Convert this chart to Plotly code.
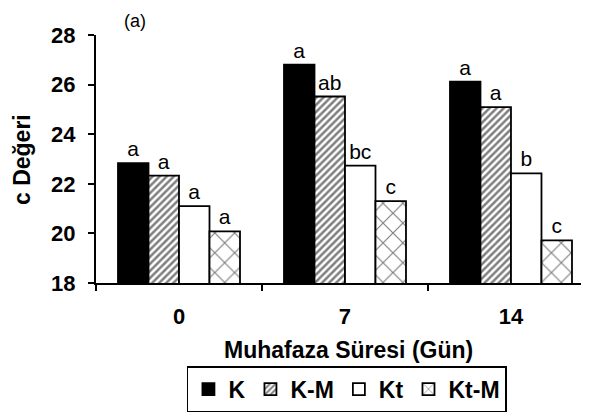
import plotly.graph_objects as go

categories = ["0", "7", "14"]
series_names = ["K", "K-M", "Kt", "Kt-M"]
K = [22.83, 26.8, 26.12]
KM = [22.33, 25.52, 25.09]
Kt = [21.1, 22.73, 22.42]
KtM = [20.08, 21.3, 19.72]
K_letters = ["a", "a", "a"]
KM_letters = ["a", "ab", "a"]
Kt_letters = ["a", "bc", "b"]
KtM_letters = ["a", "c", "c"]

FONT = "Liberation Sans, Arial, sans-serif"

styles = [
    dict(color="black", pattern=dict(shape="")),
    dict(color="white", pattern=dict(shape="/", fgcolor="black", bgcolor="white", size=5, solidity=0.5)),
    dict(color="white", pattern=dict(shape="")),
    dict(color="white", pattern=dict(shape="x", fgcolor="black", bgcolor="white", size=14, solidity=0.16)),
]

fig = go.Figure()
for name, vals, letters, st in zip(series_names, [K, KM, Kt, KtM],
                                   [K_letters, KM_letters, Kt_letters, KtM_letters], styles):
    fig.add_trace(go.Bar(
        name=name, x=categories, y=vals, text=letters,
        textposition="outside", cliponaxis=False,
        textfont=dict(family=FONT, size=21, color="black"),
        marker=dict(color=st["color"], pattern=st["pattern"],
                    line=dict(color="black", width=1.8)),
    ))

fig.update_layout(
    width=581, height=408,
    margin=dict(l=88, r=0, t=27, b=133),
    paper_bgcolor="white", plot_bgcolor="white",
    barmode="group", bargap=0.265, bargroupgap=0,
    font=dict(family=FONT, color="black"),
    showlegend=True,
    legend=dict(
        orientation="h", x=0.509, xanchor="center", y=-0.335, yanchor="top",
        font=dict(family=FONT, size=23, color="black", weight="bold"),
        bordercolor="black", borderwidth=1.5, bgcolor="white",
        itemwidth=30, traceorder="normal",
    ),
    xaxis=dict(
        type="category", range=[-0.5, 2.47], tickson="boundaries",
        ticks="outside", ticklen=6, tickwidth=1.5, tickcolor="black",
        showline=True, linecolor="black", linewidth=2, showgrid=False,
        tickfont=dict(family=FONT, size=22, color="black", weight="bold"),
        ticklabelstandoff=13,
    ),
    yaxis=dict(
        range=[18, 28], dtick=2, tick0=18,
        ticks="outside", ticklen=6, tickwidth=1.5, tickcolor="black",
        showline=True, linecolor="black", linewidth=2, showgrid=False, zeroline=False,
        tickfont=dict(family=FONT, size=22, color="black", weight="bold"),
        ticklabelstandoff=8,
    ),
    annotations=[
        dict(text="(a)", xref="paper", yref="paper", x=0.079, y=1.103,
             xanchor="center", yanchor="top", showarrow=False,
             font=dict(family=FONT, size=18, color="black")),
        dict(text="<b>Muhafaza Süresi (Gün)</b>", xref="paper", yref="paper",
             x=0.513, y=-0.27, xanchor="center", yanchor="middle", showarrow=False,
             font=dict(family=FONT, size=23, color="black")),
        dict(text="<b>c Değeri</b>", xref="paper", yref="paper",
             x=-0.150, y=0.496, xanchor="center", yanchor="middle", showarrow=False,
             textangle=-90, font=dict(family=FONT, size=23, color="black")),
    ],
)

fig.write_html("out.html")
